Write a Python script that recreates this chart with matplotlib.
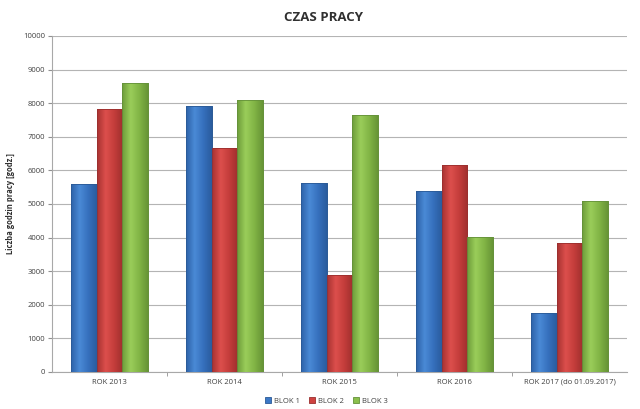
import matplotlib.pyplot as plt
import numpy as np
from matplotlib.colors import LinearSegmentedColormap

plt.rcParams['font.family'] = ['Open Sans', 'DejaVu Sans']

years = ['ROK 2013', 'ROK 2014', 'ROK 2015', 'ROK 2016', 'ROK 2017 (do 01.09.2017)']
series = ['BLOK 1', 'BLOK 2', 'BLOK 3']
blok1 = [5610, 7910, 5630, 5380, 1760]
blok2 = [7840, 6670, 2900, 6150, 3840]
blok3 = [8610, 8110, 7660, 4010, 5080]

colors = ['#3c78c6', '#cf4240', '#8bbf4c']
# dark edge -> light centre -> dark edge, Excel-style shading
shades = [['#2d62a8', '#4a8ad6', '#3670bd', '#2a5c9e'],
          ['#a83231', '#dc4f4c', '#c43d3b', '#9f2f2e'],
          ['#6d9c3a', '#9acd5a', '#82b546', '#679536']]
edges = ['#2b5a96', '#9a2f2e', '#64913a']

fig = plt.figure(figsize=(6.4, 4.09), dpi=100)
ax = fig.add_axes([52 / 640, 1 - 372 / 409, 575 / 640, 336 / 409])

x = np.arange(len(years))
w = 0.223
grad = np.linspace(0, 1, 64).reshape(1, -1)
for i, (vals, c, ec, name) in enumerate(zip([blok1, blok2, blok3], colors, edges, series)):
    bars = ax.bar(x + (i - 1) * w, vals, width=w, color=c, edgecolor=ec, linewidth=0.6,
                  label=name, zorder=3)
    cmap = LinearSegmentedColormap.from_list('s%d' % i, shades[i])
    for b in bars:
        x0, y0 = b.get_x(), b.get_y()
        im = ax.imshow(grad, cmap=cmap, aspect='auto', zorder=3.5,
                       extent=[x0, x0 + b.get_width(), y0, y0 + b.get_height()])
        im.set_clip_path(b)
    for b in bars:
        ax.bar(b.get_x() + b.get_width() / 2, b.get_height(), width=b.get_width(),
               facecolor='none', edgecolor=ec, linewidth=0.6, zorder=4)

ax.set_xlim(-0.5, len(years) - 0.5)
ax.set_ylim(0, 10000)
ax.set_yticks(np.arange(0, 10001, 1000))
ax.tick_params(axis='y', labelsize=5.5, length=3, color='#909090', labelcolor='#404040', pad=2)
ax.set_xticks(x)
ax.set_xticklabels(years)
ax.tick_params(axis='x', labelsize=5.5, length=0, labelcolor='#404040', pad=5)
# small separators between the categories on the bottom axis
ax.set_xticks(np.arange(0.5, len(years) - 0.5, 1), minor=True)
ax.tick_params(axis='x', which='minor', length=3, color='#909090')

ax.grid(axis='y', color='#b4b4b4', linewidth=0.8, zorder=0)
for s in ['top', 'right']:
    ax.spines[s].set_visible(False)
ax.spines['left'].set_color('#a8a8a8')
ax.spines['bottom'].set_color('#a8a8a8')

ax.set_ylabel('Liczba godzin pracy [godz.]', fontsize=5.5, fontweight='bold', color='#303030', labelpad=6)
fig.text(0.505, 0.958, 'CZAS PRACY', ha='center', va='center', fontsize=9.5, fontweight='bold', color='#303030')

fig.legend(loc='center', bbox_to_anchor=(0.51, 0.02), ncol=3, frameon=False, fontsize=5.5,
           handlelength=0.8, handleheight=0.8, handletextpad=0.4, columnspacing=1.2,
           labelcolor='#404040')

fig.savefig('out.png', dpi=100)
